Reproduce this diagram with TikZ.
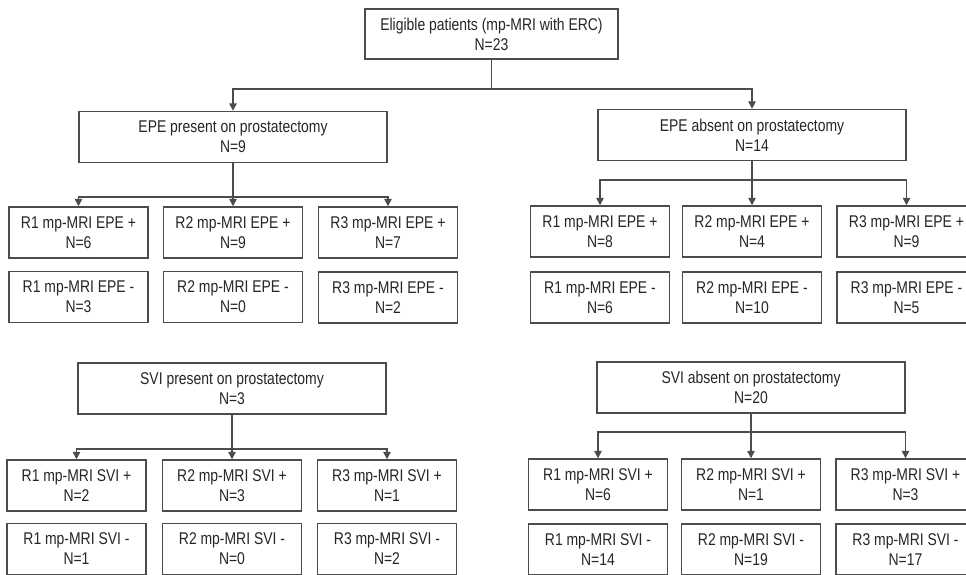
\documentclass[tikz,border=0pt]{standalone}
\usepackage{fontspec}
\setmainfont[FakeStretch=0.82]{Liberation Sans}
\usetikzlibrary{arrows.meta}
\begin{document}
\begin{tikzpicture}[x=0.75pt,y=-0.75pt,
  box/.style={draw=black!70, line width=1.1pt, fill=white, align=center, text=black!85,
    font=\fontsize{12.75}{15}\selectfont, inner sep=0pt, minimum height=38.25pt},
  big/.style={box, minimum width=231pt},
  small/.style={box, minimum width=104.25pt},
  ln/.style={draw=black!70, line width=1.1pt},
  arr/.style={ln, -{Triangle[length=5.5pt,width=5.5pt]}}]
\useasboundingbox (0,0) rectangle (966,574);
\clip (0,0) rectangle (966,574);

% top
\node[box, minimum width=189.75pt, minimum height=37.5pt] (top) at (491.5,34) {Eligible patients (mp-MRI with ERC)\\N=23};
\node[big] (epeP) at (233,137) {EPE present on prostatectomy\\N=9};
\node[big] (epeA) at (752,135) {EPE absent on prostatectomy\\N=14};
\coordinate (j0) at (491.5,89);
\draw[ln] (top.south) -- (j0);
\draw[arr] (j0) -| (epeP.north);
\draw[arr] (j0) -| (epeA.north);

% EPE present children
\node[small] (pa1) at (78.5,232.5) {R1 mp-MRI EPE +\\N=6};
\node[small] (pa2) at (233,232.5) {R2 mp-MRI EPE +\\N=9};
\node[small] (pa3) at (388,232.5) {R3 mp-MRI EPE +\\N=7};
\node[small] (pb1) at (78.5,297) {R1 mp-MRI EPE -\\N=3};
\node[small] (pb2) at (233,297) {R2 mp-MRI EPE -\\N=0};
\node[small] (pb3) at (388,297.5) {R3 mp-MRI EPE -\\N=2};
\coordinate (j1) at (233,197);
\draw[ln] (epeP.south) -- (j1);
\draw[arr] (j1) -| (pa1.north);
\draw[arr] (j1) -- (pa2.north);
\draw[arr] (j1) -| (pa3.north);

% EPE absent children
\node[small] (aa1) at (600,231.5) {R1 mp-MRI EPE +\\N=8};
\node[small] (aa2) at (752,231.5) {R2 mp-MRI EPE +\\N=4};
\node[small] (aa3) at (906.5,231.5) {R3 mp-MRI EPE +\\N=9};
\node[small] (ab1) at (600,297.5) {R1 mp-MRI EPE -\\N=6};
\node[small] (ab2) at (752,297.5) {R2 mp-MRI EPE -\\N=10};
\node[small] (ab3) at (906.5,297.5) {R3 mp-MRI EPE -\\N=5};
\coordinate (j2) at (752,180);
\draw[ln] (epeA.south) -- (j2);
\draw[arr] (j2) -| (aa1.north);
\draw[arr] (j2) -- (aa2.north);
\draw[arr] (j2) -| (aa3.north);

% SVI
\node[big] (sviP) at (232,388.5) {SVI present on prostatectomy\\N=3};
\node[big] (sviA) at (751,387.5) {SVI absent on prostatectomy\\N=20};

\node[small] (sa1) at (76.5,485.5) {R1 mp-MRI SVI +\\N=2};
\node[small] (sa2) at (232,485.5) {R2 mp-MRI SVI +\\N=3};
\node[small] (sa3) at (387,485.5) {R3 mp-MRI SVI +\\N=1};
\node[small] (sb1) at (76.5,549) {R1 mp-MRI SVI -\\N=1};
\node[small] (sb2) at (232,549) {R2 mp-MRI SVI -\\N=0};
\node[small] (sb3) at (387,549) {R3 mp-MRI SVI -\\N=2};
\coordinate (j3) at (232,449);
\draw[ln] (sviP.south) -- (j3);
\draw[arr] (j3) -| (sa1.north);
\draw[arr] (j3) -- (sa2.north);
\draw[arr] (j3) -| (sa3.north);

\node[small] (ta1) at (598,484.5) {R1 mp-MRI SVI +\\N=6};
\node[small] (ta2) at (751,484.5) {R2 mp-MRI SVI +\\N=1};
\node[small] (ta3) at (905.5,484.5) {R3 mp-MRI SVI +\\N=3};
\node[small] (tb1) at (598,549.5) {R1 mp-MRI SVI -\\N=14};
\node[small] (tb2) at (751,549.5) {R2 mp-MRI SVI -\\N=19};
\node[small] (tb3) at (905.5,549.5) {R3 mp-MRI SVI -\\N=17};
\coordinate (j4) at (751,432);
\draw[ln] (sviA.south) -- (j4);
\draw[arr] (j4) -| (ta1.north);
\draw[arr] (j4) -- (ta2.north);
\draw[arr] (j4) -| (ta3.north);
\end{tikzpicture}
\end{document}
